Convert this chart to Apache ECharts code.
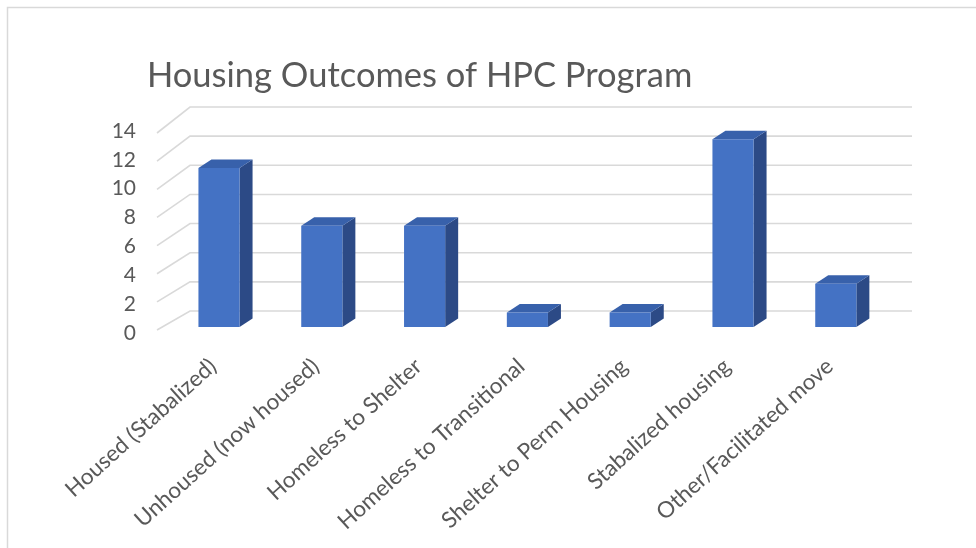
<!DOCTYPE html>
<html><head><meta charset="utf-8">
<script src="https://cdn.jsdelivr.net/npm/echarts@6/dist/echarts.min.js"></script>
<style>html,body{margin:0;padding:0;background:#fff}#c{width:976px;height:548px}</style>
</head><body><div id="c"></div>
<script>
const categories = ['Housed (Stabalized)','Unhoused (now housed)','Homeless to Shelter','Homeless to Transitional','Shelter to Perm Housing','Stabalized housing','Other/Facilitated move'];
const values = [11, 7, 7, 1, 1, 13, 3];
const yMin = 0, yMax = 14, yStep = 2;
const gridTicks = [0, 2, 4, 6, 8, 10, 12, 14];
const titleText = 'Housing Outcomes of HPC Program';

const FONT = 'Lato';
const TXT = '#595959';
const DEPTH = {dx: 13, dy: -8.5};

const chart = echarts.init(document.getElementById('c'), null, {renderer: 'canvas'});
chart.setOption({
  backgroundColor: '#fff',
  animation: false,
  title: {text: titleText, left: 142, top: 53, textStyle: {fontFamily: FONT, fontSize: 34.5, fontWeight: 'normal', color: TXT}},
  graphic: [{type: 'rect', shape: {x: 7.5, y: 7.5, width: 1100, height: 700}, style: {fill: 'none', stroke: '#d9d9d9', lineWidth: 1.5}, silent: true, z: -10}],
  grid: [
    {left: 190, right: 64, top: 107, bottom: 237},
    {left: 167.6, right: 88.8, top: 124.7, bottom: 221},
    {left: 157, width: 100, top: 131, bottom: 215},
    {left: 161.6, right: 94.8, top: 124.7, bottom: 221}
  ],
  xAxis: [
    {gridIndex: 0, type: 'value', min: 0, max: 1, show: false},
    {gridIndex: 1, type: 'category', data: categories, show: false},
    {gridIndex: 2, type: 'value', min: 0, max: 1, show: false},
    {gridIndex: 3, type: 'category', data: categories, axisLine: {show: false}, axisTick: {show: false},
     axisLabel: {rotate: 42, interval: 0, margin: 36, fontFamily: FONT, fontSize: 22.5, color: TXT}}
  ],
  yAxis: [
    {gridIndex: 0, type: 'value', min: yMin, max: yMax, interval: yStep, show: false},
    {gridIndex: 1, type: 'value', min: yMin, max: yMax, interval: yStep, show: false},
    {gridIndex: 2, type: 'value', min: yMin, max: yMax, interval: yStep, axisLine: {show: false}, axisTick: {show: false}, splitLine: {show: false},
     axisLabel: {margin: 21, fontFamily: FONT, fontSize: 21, color: TXT}},
    {gridIndex: 3, type: 'value', min: yMin, max: yMax, interval: yStep, show: false}
  ],
  series: [
    {
      type: 'custom', xAxisIndex: 0, yAxisIndex: 0, silent: true, z: 1,
      data: gridTicks.map(v => [0, v]),
      renderItem: function (params, api) {
        const v = api.value(1);
        const cs = params.coordSys;
        const y = api.coord([0, v])[1];
        const fy = y + 19 + 0.5 * v;
        return {type: 'polyline', shape: {points: [[cs.x - 33, fy], [cs.x, y], [cs.x + cs.width, y]]},
          style: {stroke: '#d9d9d9', lineWidth: 1.6, fill: 'none'}};
      }
    },
    {
      type: 'custom', xAxisIndex: 1, yAxisIndex: 1, silent: true, z: 2,
      data: values.map((v, i) => [i, v]),
      renderItem: function (params, api) {
        const i = api.value(0), v = api.value(1);
        const top = api.coord([i, v]);
        const base = api.coord([i, 0]);
        const bw = api.size([1, 0])[0] * 0.4;
        const x0 = top[0] - bw / 2, x1 = top[0] + bw / 2;
        const ty = top[1], by = base[1];
        const dx = DEPTH.dx, dy = DEPTH.dy;
        return {type: 'group', children: [
          {type: 'polygon', shape: {points: [[x1, ty], [x1 + dx, ty + dy], [x1 + dx, by + dy], [x1, by]]}, style: {fill: '#2c4a86'}},
          {type: 'polygon', shape: {points: [[x0, ty], [x0 + dx, ty + dy], [x1 + dx, ty + dy], [x1, ty]]}, style: {fill: '#3861ab'}},
          {type: 'rect', shape: {x: x0, y: ty, width: bw, height: by - ty}, style: {fill: '#4472c4'}}
        ]};
      }
    }
  ]
});
</script></body></html>
